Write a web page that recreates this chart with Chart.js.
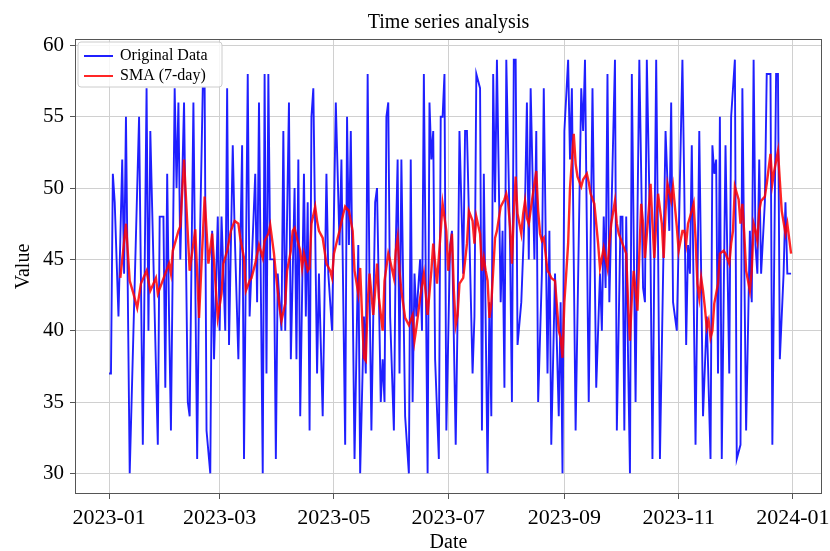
<!DOCTYPE html>
<html>
<head>
<meta charset="utf-8">
<title>Time series analysis</title>
<script src="https://cdn.jsdelivr.net/npm/chart.js@4.4.0/dist/chart.umd.min.js"></script>
<style>
  html, body { margin: 0; padding: 0; background: #fff; }
</style>
</head>
<body>
<canvas id="tsChart" width="830" height="551"></canvas>
<script>
// --- DATA (day index from 2023-01-01) ---
const chartTitle = 'Time series analysis';

const dataDays = [
    0, 1, 2, 3, 5, 7, 8, 9, 11, 13, 16, 18, 20, 21, 22, 26, 27, 29, 30,
    31, 32, 33, 35, 36, 37, 38, 40, 42, 43, 45, 47, 48, 50, 51, 52, 54, 55, 56, 58, 59, 60,
    62, 63, 64, 66, 67, 69, 71, 72, 74, 75, 78, 79, 80, 82, 83, 84, 85, 86, 88, 89, 90,
    92, 93, 94, 96, 97, 99, 100, 101, 102, 104, 105, 106, 107, 108, 109, 111, 112, 114, 116, 117, 119, 121,
    123, 124, 126, 127, 128, 129, 131, 133, 134, 136, 137, 138, 139, 140, 142, 143, 145, 146, 147, 148, 149, 150, 152,
    153, 154, 155, 156, 158, 160, 161, 162, 163, 164, 166, 167, 168, 170, 171, 172, 173, 174, 176, 177, 178, 179, 180, 182, 183,
    185, 186, 187, 189, 190, 191, 194, 195, 196, 198, 199, 200, 202, 203, 204, 205, 206, 207, 209, 210, 211, 212, 214,
    215, 216, 217, 218, 220, 222, 223, 224, 225, 227, 228, 229, 231, 232, 234, 235, 236, 238, 240, 241, 242, 243,
    245, 246, 247, 249, 252, 253, 254, 256, 258, 260, 262, 263, 264, 265, 266, 267, 270, 271, 273, 274, 275,
    276, 277, 278, 279, 281, 282, 283, 285, 286, 287, 289, 290, 292, 293, 294, 297, 299, 300, 301, 303, 306,
    307, 308, 309, 310, 311, 313, 315, 317, 319, 321, 322, 323, 324, 325, 326, 327, 329, 331, 332, 334, 335,
    337, 338, 340, 342, 343, 344, 345, 346, 347, 348, 350, 351, 353, 354, 356, 357, 358, 360, 361, 362, 364
];
const dataValues = [
    37, 37, 51, 49, 41, 52, 44, 55, 30, 40, 55, 32, 57, 40, 54, 32, 48, 48, 36,
    51, 41, 33, 57, 50, 56, 45, 56, 35, 34, 56, 31, 43, 57, 57, 33, 30, 47, 38, 48, 40, 48,
    40, 57, 39, 53, 47, 38, 53, 31, 58, 41, 51, 42, 56, 30, 58, 37, 58, 45, 45, 31, 44,
    40, 54, 40, 56, 38, 50, 38, 52, 34, 51, 41, 49, 33, 55, 57, 37, 44, 34, 51, 44, 40, 56,
    46, 52, 32, 55, 46, 54, 31, 46, 30, 41, 37, 58, 43, 33, 49, 50, 35, 38, 35, 55, 56, 41, 33,
    46, 52, 37, 52, 34, 30, 52, 35, 44, 41, 45, 40, 58, 30, 56, 52, 54, 38, 31, 55, 55, 58, 33, 46, 47,
    32, 41, 54, 44, 54, 54, 37, 41, 58, 57, 33, 51, 30, 42, 34, 58, 49, 59, 42, 47, 36, 59, 46,
    35, 59, 59, 39, 42, 49, 56, 45, 57, 45, 54, 35, 44, 57, 37, 47, 32, 44, 34, 42, 30, 54,
    59, 52, 57, 33, 57, 54, 59, 35, 57, 36, 44, 40, 48, 43, 58, 42, 59, 33, 48, 48, 33,
    48, 38, 30, 58, 35, 48, 59, 43, 42, 59, 45, 31, 59, 46, 31, 54, 47, 56, 42, 40, 59,
    50, 39, 46, 44, 53, 32, 54, 34, 41, 31, 53, 51, 52, 37, 55, 31, 53, 37, 55, 59, 31,
    32, 57, 33, 47, 42, 59, 46, 44, 52, 44, 49, 58, 58, 32, 58, 58, 38, 44, 49, 44, 44
];

const smaDays = [
    6, 9, 11, 13, 15, 17, 20, 22, 25, 26, 30, 32, 33, 34, 37, 38, 40, 43, 46, 48, 51, 53, 55, 58, 60,
    61, 63, 65, 67, 69, 70, 72, 73, 75, 76, 78, 80, 82, 83, 85, 86, 88, 89, 91,
    92, 94, 95, 97, 98, 99, 101, 102, 103, 104, 106, 107, 108, 110, 111, 112, 114, 116, 118, 119, 120, 122,
    123, 125, 126, 128, 130, 131, 133, 134, 135, 136, 137, 138, 139, 141, 142, 143, 144, 146, 147, 149, 150, 152,
    153, 154, 155, 156, 158, 160, 162, 163, 164, 166, 168, 169, 170, 172, 173, 175, 177, 178, 180, 181, 182, 183,
    184, 185, 186, 187, 189, 191, 192, 194, 195, 196, 198, 199, 200, 201, 202, 203, 204, 206, 207, 209, 211, 212, 213, 214,
    215, 216, 217, 218, 220, 221, 222, 223, 224, 226, 228, 229, 230, 231, 232, 234, 235, 236, 238, 240, 241, 242, 243, 245,
    246, 248, 249, 250, 252, 253, 255, 256, 257, 259, 260, 261, 262, 263, 264, 265, 266, 267, 268, 270, 271, 272, 274, 276,
    277, 278, 279, 280, 281, 282, 283, 284, 285, 286, 288, 289, 290, 291, 292, 293, 295, 296, 297, 298, 300, 301, 303, 304, 306,
    307, 308, 309, 311, 312, 313, 314, 315, 316, 317, 318, 319, 320, 321, 322, 323, 325, 326, 328, 329, 331, 332, 333, 334, 336, 337,
    338, 339, 340, 342, 343, 344, 345, 346, 347, 348, 350, 351, 353, 354, 355, 357, 358, 359, 361, 362, 364
];
const smaValues = [
    43.7, 47.5, 43.5, 42.6, 41.6, 43.3, 44.2, 42.8, 43.7, 42.6, 44.0, 44.7, 44.0, 45.6, 47.0, 47.3, 52.0, 44.2, 47.1, 40.9, 49.4, 44.7, 46.8, 40.9, 42.6,
    44.7, 45.6, 47.0, 47.7, 47.5, 46.5, 45.1, 42.8, 43.5, 43.7, 44.7, 46.0, 45.1, 46.3, 46.8, 47.4, 45.4, 44.0, 41.6,
    40.7, 41.9, 44.2, 45.6, 47.0, 47.2, 46.1, 45.6, 44.4, 45.4, 44.2, 44.4, 47.5, 48.7, 47.7, 47.0, 46.5, 44.7, 44.2, 43.7, 45.4, 46.5,
    47.0, 48.2, 48.7, 48.4, 47.0, 44.2, 42.6, 44.4, 41.1, 38.1, 37.9, 41.9, 44.0, 41.1, 42.8, 44.7, 42.3, 40.0, 43.5, 45.4, 44.9, 43.7,
    45.6, 46.5, 44.2, 42.8, 40.9, 40.4, 41.1, 39.3, 40.2, 42.3, 44.0, 42.6, 41.1, 44.2, 46.1, 43.3, 47.0, 48.9, 47.0, 44.2, 45.6, 46.8,
    42.8, 40.4, 41.1, 43.3, 43.7, 46.1, 48.4, 47.7, 46.1, 48.0, 46.8, 44.2, 45.1, 44.2, 43.5, 40.9, 41.9, 46.5, 47.0, 48.7, 49.2, 49.6, 48.9, 47.3,
    44.7, 48.2, 50.8, 48.2, 46.8, 48.2, 49.1, 47.9, 47.5, 49.4, 51.2, 48.4, 46.8, 46.3, 46.5, 44.2, 44.0, 43.7, 43.5, 40.0, 39.5, 38.1, 42.0, 46.1,
    50.0, 53.8, 51.7, 50.8, 50.1, 50.6, 51.0, 50.4, 49.6, 48.9, 47.5, 46.1, 44.4, 45.1, 45.8, 45.1, 44.4, 46.1, 47.5, 49.1, 47.5, 46.8, 46.1, 45.4,
    41.9, 39.3, 42.3, 44.2, 42.8, 41.4, 45.4, 48.9, 47.5, 45.1, 48.4, 50.3, 47.5, 45.1, 47.5, 49.6, 47.5, 45.1, 48.4, 50.3, 49.1, 50.1, 47.3, 45.6, 47.0,
    47.0, 46.1, 47.5, 48.4, 48.9, 46.5, 43.3, 42.3, 43.7, 42.8, 41.6, 40.2, 40.7, 39.5, 40.0, 41.9, 43.3, 45.4, 45.6, 45.4, 44.7, 46.1, 47.0, 50.1, 49.2, 47.5,
    48.9, 46.8, 44.2, 42.8, 44.2, 47.5, 47.0, 46.3, 48.4, 49.1, 49.4, 50.3, 52.4, 50.3, 51.2, 52.6, 50.5, 48.4, 46.8, 47.5, 45.4
];

const tickDays = [0, 59, 120, 181, 243, 304, 365];
const tickLabels = ['2023-01', '2023-03', '2023-05', '2023-07', '2023-09', '2023-11', '2024-01'];
const yTicks = [30, 35, 40, 45, 50, 55, 60];

// --- STYLE ---
const serif = '"Liberation Serif", "Times New Roman", serif';
const blue = 'rgba(0, 0, 255, 0.88)';
const red = 'rgba(255, 0, 0, 0.85)';

// frame, title and in-axes legend (matplotlib look)
const framePlugin = {
    id: 'frame',
    afterDraw(chart) {
        const { ctx, chartArea: a } = chart;
        ctx.save();
        ctx.strokeStyle = '#555';
        ctx.lineWidth = 1;
        ctx.strokeRect(a.left + 0.5, a.top + 0.5, a.right - a.left - 1, a.bottom - a.top - 1);

        ctx.fillStyle = '#000';
        ctx.font = '20px ' + serif;
        ctx.textAlign = 'center';
        ctx.textBaseline = 'middle';
        ctx.fillText(chartTitle, (a.left + a.right) / 2, 23);

        // legend box
        const bx = a.left + 3, by = a.top + 3, bw = 144, bh = 45, r = 3;
        ctx.beginPath();
        ctx.moveTo(bx + r, by);
        ctx.lineTo(bx + bw - r, by);
        ctx.arcTo(bx + bw, by, bx + bw, by + r, r);
        ctx.lineTo(bx + bw, by + bh - r);
        ctx.arcTo(bx + bw, by + bh, bx + bw - r, by + bh, r);
        ctx.lineTo(bx + r, by + bh);
        ctx.arcTo(bx, by + bh, bx, by + bh - r, r);
        ctx.lineTo(bx, by + r);
        ctx.arcTo(bx, by, bx + r, by, r);
        ctx.closePath();
        ctx.fillStyle = 'rgba(255,255,255,0.8)';
        ctx.fill();
        ctx.strokeStyle = '#ccc';
        ctx.stroke();

        const items = [['Original Data', blue], ['SMA (7-day)', red]];
        ctx.font = '16px ' + serif;
        ctx.textAlign = 'left';
        items.forEach(([label, color], i) => {
            const y = by + 14 + i * 20;
            ctx.strokeStyle = color;
            ctx.lineWidth = 2;
            ctx.beginPath();
            ctx.moveTo(bx + 6, y);
            ctx.lineTo(bx + 35, y);
            ctx.stroke();
            ctx.fillStyle = '#000';
            ctx.fillText(label, bx + 42, y);
        });
        ctx.restore();
    }
};

const ctx = document.getElementById('tsChart');

new Chart(ctx, {
    type: 'line',
    data: {
        datasets: [{
            label: 'Original Data',
            data: dataDays.map((d, i) => ({ x: d, y: dataValues[i] })),
            borderColor: blue,
            borderWidth: 1.9,
            pointRadius: 0,
            tension: 0,
            order: 2
        }, {
            label: 'SMA (7-day)',
            data: smaDays.map((d, i) => ({ x: d, y: smaValues[i] })),
            borderColor: red,
            borderWidth: 2.4,
            pointRadius: 0,
            tension: 0,
            order: 1
        }]
    },
    options: {
        responsive: false,
        animation: false,
        layout: { padding: { top: 39, right: 8, bottom: 0, left: 0 } },
        plugins: {
            legend: { display: false },
            tooltip: { enabled: false }
        },
        scales: {
            x: {
                type: 'linear',
                min: -18.2,
                max: 380.5,
                afterBuildTicks: (scale) => { scale.ticks = tickDays.map(v => ({ value: v })); },
                afterFit: (scale) => {
                    // fixed axis band; let the end labels hang past the plot edges like matplotlib
                    scale.height = 57;
                    scale.paddingLeft = 0;
                    scale.paddingRight = 0;
                },
                grid: { color: '#d0d0d0', tickColor: '#555', tickLength: 5 },
                border: { display: false },
                ticks: {
                    color: '#000',
                    font: { family: serif, size: 22 },
                    padding: 6,
                    maxRotation: 0,
                    autoSkip: false,
                    callback: (v) => tickLabels[tickDays.indexOf(v)] || ''
                },
                title: {
                    display: true,
                    text: 'Date',
                    color: '#000',
                    font: { family: serif, size: 20, lineHeight: 0.8 },
                    padding: { top: 0, bottom: 0 }
                }
            },
            y: {
                min: 28.55,
                max: 60.45,
                afterBuildTicks: (scale) => { scale.ticks = yTicks.map(v => ({ value: v })); },
                afterFit: (scale) => { scale.width = 75; },
                grid: { color: '#d0d0d0', tickColor: '#555', tickLength: 5 },
                border: { display: false },
                ticks: {
                    color: '#000',
                    font: { family: serif, size: 21 },
                    padding: 6,
                    callback: (v) => String(v)
                },
                title: {
                    display: true,
                    text: 'Value',
                    color: '#000',
                    font: { family: serif, size: 20, lineHeight: 1 },
                    padding: { top: 14, bottom: 0 }
                }
            }
        }
    },
    plugins: [framePlugin]
});
</script>
</body>
</html>
